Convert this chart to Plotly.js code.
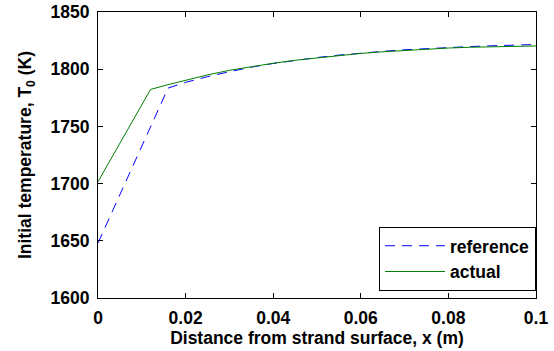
<!DOCTYPE html>
<html><head><meta charset="utf-8">
<script src="https://cdn.plot.ly/plotly-3.0.1.min.js"></script>
<style>html,body{margin:0;padding:0;background:#fff}#plot{width:554px;height:351px}</style>
</head><body><div id="plot"></div>
<script>
const refX = [0, 0.016, 0.02, 0.025, 0.03, 0.035, 0.04, 0.045, 0.05, 0.055, 0.06, 0.065, 0.07, 0.075, 0.08, 0.085, 0.09, 0.095, 0.1];
const refY = [1648, 1783.5, 1788.5, 1793.5, 1797.8, 1801.8, 1805, 1807.8, 1810.2, 1812.3, 1814.1, 1815.6, 1817, 1818.1, 1819, 1819.8, 1820.5, 1821.1, 1821.6];
const actX = [0, 0.012, 0.016, 0.02, 0.025, 0.03, 0.035, 0.04, 0.045, 0.05, 0.055, 0.06, 0.065, 0.07, 0.075, 0.08, 0.085, 0.09, 0.095, 0.1];
const actY = [1701.7, 1782.3, 1786.5, 1790.4, 1795, 1799, 1802.3, 1805.2, 1807.8, 1810, 1812, 1813.8, 1815.2, 1816.5, 1817.6, 1818.5, 1819.2, 1819.7, 1820.1, 1820.3];
const xTicks = [0, 0.02, 0.04, 0.06, 0.08, 0.1];
const xTickText = ['0', '0.02', '0.04', '0.06', '0.08', '0.1'];
const yTicks = [1600, 1650, 1700, 1750, 1800, 1850];

const fontFam = 'Arial, "Liberation Sans", sans-serif';
const fs = 17.5;
const traces = [
  {x: refX, y: refY, mode: 'lines', name: 'reference', line: {color: 'rgb(0,0,255)', width: 1, dash: '10px,7px'}},
  {x: actX, y: actY, mode: 'lines', name: 'actual', line: {color: 'rgb(0,128,0)', width: 1}}
];
const axisCommon = {showgrid: false, zeroline: false, showline: true, linecolor: '#000', linewidth: 1, mirror: 'ticks', ticks: 'inside', ticklen: 5, tickcolor: '#000', tickfont: {family: fontFam, size: fs, color: '#000', weight: 'bold'}};
const layout = {
  width: 554, height: 351,
  margin: {l: 98, r: 18, t: 12, b: 53},
  paper_bgcolor: '#fff', plot_bgcolor: '#fff',
  showlegend: true,
  legend: {x: 1, xanchor: 'right', y: 0.025, yanchor: 'bottom', bgcolor: '#fff', bordercolor: '#000', borderwidth: 1, font: {family: fontFam, size: 17.5, color: '#000', weight: 'bold'}, itemwidth: 60, tracegroupgap: 0},
  xaxis: Object.assign({}, axisCommon, {range: [0, 0.1], tickvals: xTicks, ticktext: xTickText, ticklabelstandoff: 4, title: {text: 'Distance from strand surface, x (m)', font: {family: fontFam, size: fs, color: '#000', weight: 'bold'}, standoff: 0}}),
  yaxis: Object.assign({}, axisCommon, {range: [1600, 1850], tickvals: yTicks, ticklabelstandoff: 4, title: {text: 'Initial temperature, T<sub>0</sub> (K)', font: {family: fontFam, size: fs, color: '#000', weight: 'bold'}, standoff: 14}})
};
Plotly.newPlot('plot', traces, layout, {displayModeBar: false, staticPlot: true});
</script></body></html>
